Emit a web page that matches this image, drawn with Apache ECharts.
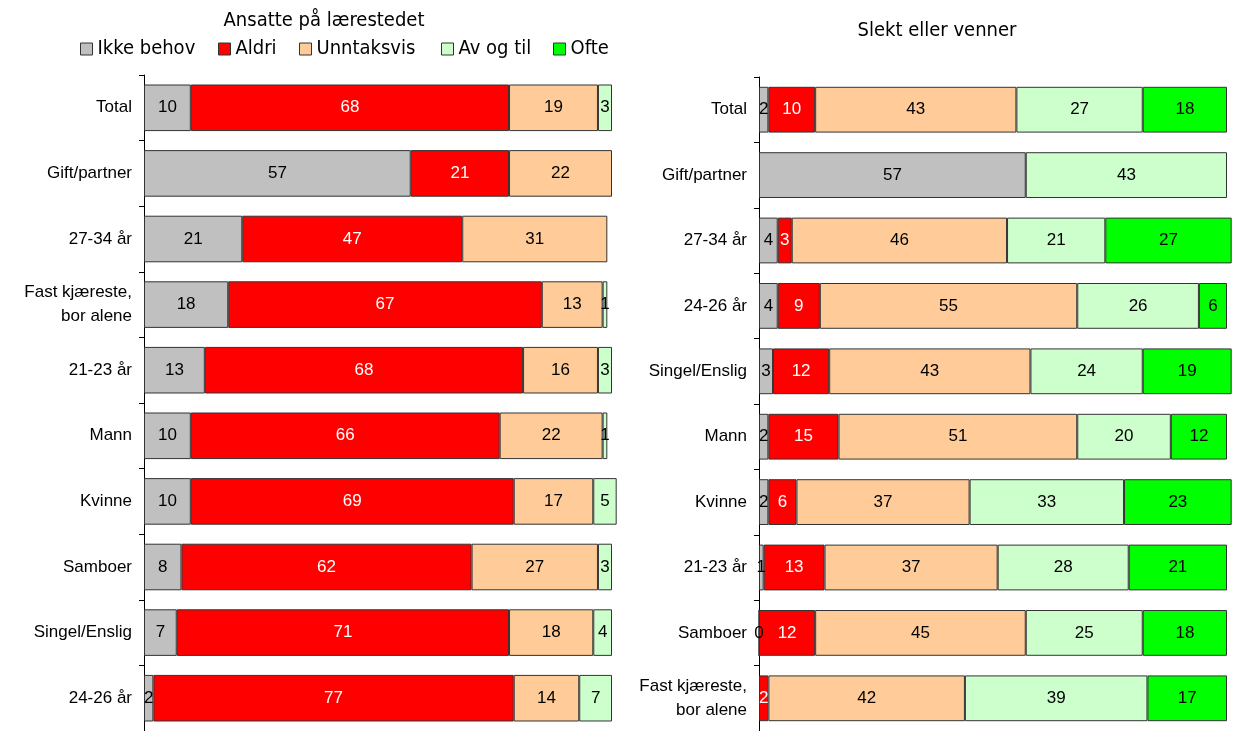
<!DOCTYPE html>
<html><head><meta charset="utf-8">
<script src="https://cdn.jsdelivr.net/npm/echarts@6/dist/echarts.min.js"></script>
<style>html,body{margin:0;padding:0;background:#fff}#c{width:1234px;height:731px}</style>
</head><body><div id="c"></div>
<script>
const seriesNames = ['Ikke behov','Aldri','Unntaksvis','Av og til','Ofte'];
const colors = ['#C0C0C0','#FF0000','#FFCC99','#CCFFCC','#00FF00'];

const leftTitle = 'Ansatte på lærestedet';
const leftCats = ['Total','Gift/partner','27-34 år','Fast kjæreste,\nbor alene','21-23 år','Mann','Kvinne','Samboer','Singel/Enslig','24-26 år'];
const leftIkke  = [10,57,21,18,13,10,10,8,7,2];
const leftAldri = [68,21,47,67,68,66,69,62,71,77];
const leftUnnt  = [19,22,31,13,16,22,17,27,18,14];
const leftAv    = [3,null,null,1,3,1,5,3,4,7];
const leftOfte  = [null,null,null,null,null,null,null,null,null,null];

const rightTitle = 'Slekt eller venner';
const rightCats = ['Total','Gift/partner','27-34 år','24-26 år','Singel/Enslig','Mann','Kvinne','21-23 år','Samboer','Fast kjæreste,\nbor alene'];
const rightIkke  = [2,57,4,4,3,2,2,1,0,null];
const rightAldri = [10,null,3,9,12,15,6,13,12,2];
const rightUnnt  = [43,null,46,55,43,51,37,37,45,42];
const rightAv    = [27,43,21,26,24,20,33,28,25,39];
const rightOfte  = [18,null,27,6,19,12,23,21,18,17];

const leftData = [leftIkke,leftAldri,leftUnnt,leftAv,leftOfte];
const rightData = [rightIkke,rightAldri,rightUnnt,rightAv,rightOfte];

const FONT = "'Liberation Sans', Arial, sans-serif";
const NARROW = "'Liberation Sans Narrow', 'Arial Narrow', 'DejaVu Sans Condensed', 'Liberation Sans', sans-serif";

function mkSeries(dataArr, idx) {
  return seriesNames.map((n,i)=>({
    name:n, type:'bar', stack:'s'+idx, xAxisIndex:idx, yAxisIndex:idx,
    barCategoryGap: idx===0 ? '29%' : '30%',
    clip:false,
    data:dataArr[i],
    itemStyle:{color:colors[i], borderColor:'#333333', borderWidth:1},
    label:{show:true, position:'inside', fontFamily:FONT, fontSize:17,
      color: i===1 ? '#ffffff' : '#000000',
      formatter:p=> (p.value===null||p.value===undefined)?'':String(p.value)},
    emphasis:{disabled:true}, animation:false
  }));
}

function yAx(cats, idx){
  return {type:'category', gridIndex:idx, data:cats, inverse:true,
    axisLine:{show:true, lineStyle:{color:'#000', width:1}},
    axisTick:{show:true, length:5, lineStyle:{color:'#000'}},
    axisLabel:{fontFamily:FONT, fontSize:17, color:'#000', margin:12, lineHeight:24}};
}
function xAx(idx){
  return {type:'value', gridIndex:idx, min:0, max:100, show:false};
}

const legendX = [80,218,299,441,553];
const legends = seriesNames.map((n,i)=>({
  data:[n], left:legendX[i], top:39, padding:0, itemWidth:12, itemHeight:12, itemGap:6,
  icon:'rect', selectedMode:false,
  itemStyle:{borderColor:'#333', borderWidth:1},
  textStyle:{fontFamily:NARROW, fontSize:20, color:'#000'}
}));

const chart = echarts.init(document.getElementById('c'), null, {renderer:'canvas'});
chart.setOption({
  animation:false,
  title:[
    {text:leftTitle, left:319, top:6, textAlign:'center', textStyle:{fontFamily:NARROW, fontSize:20, fontWeight:'normal', color:'#000'}},
    {text:rightTitle, left:932, top:16, textAlign:'center', textStyle:{fontFamily:NARROW, fontSize:20, fontWeight:'normal', color:'#000'}}
  ],
  legend:legends,
  grid:[
    {left:144, width:468, top:75, height:660},
    {left:759, width:468, top:77, height:656}
  ],
  xAxis:[xAx(0),xAx(1)],
  yAxis:[yAx(leftCats,0),yAx(rightCats,1)],
  series:[...mkSeries(leftData,0),...mkSeries(rightData,1)]
});
</script></body></html>
